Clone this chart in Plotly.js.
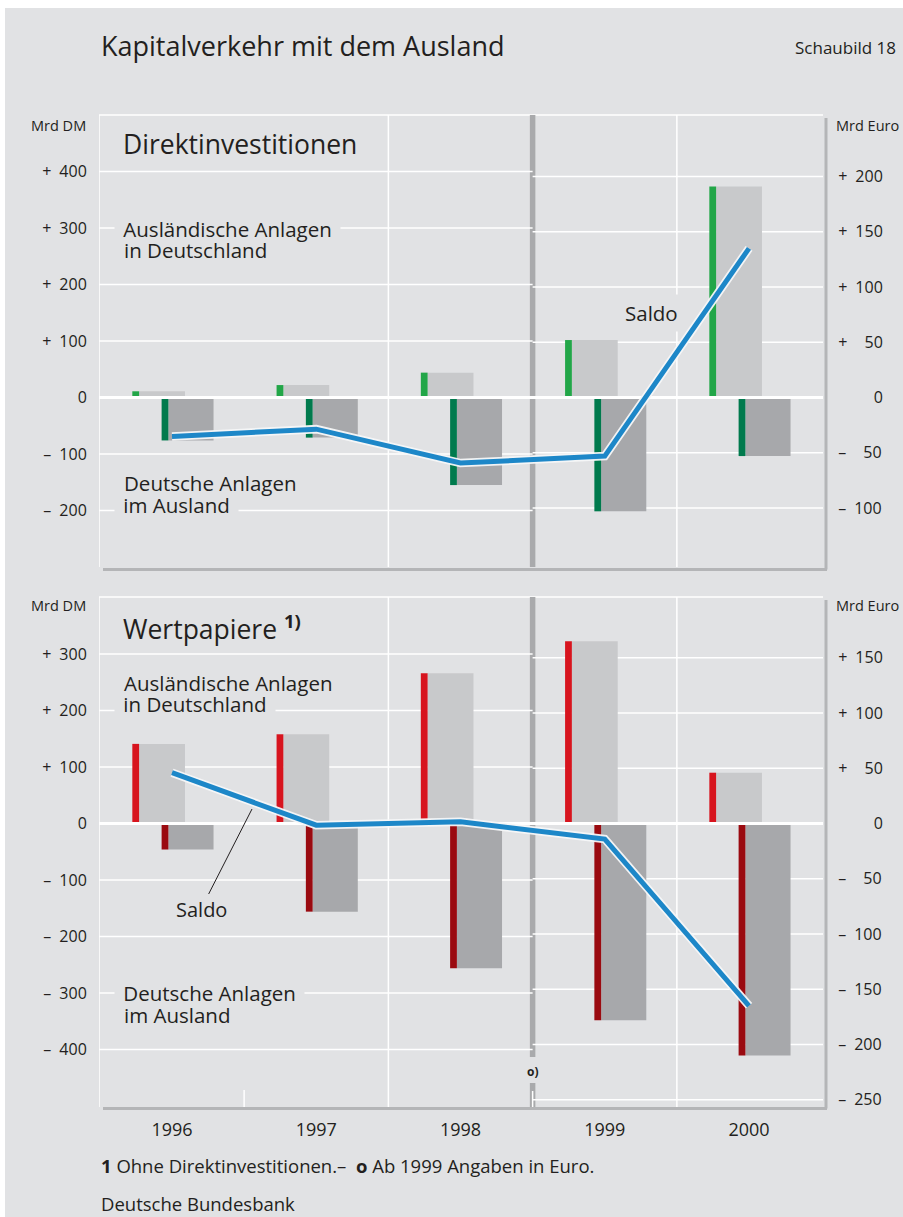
<!DOCTYPE html>
<html>
<head>
<meta charset="utf-8">
<script src="https://cdn.plot.ly/plotly-3.0.1.min.js"></script>
<style>
  html, body { margin: 0; padding: 0; background: #ffffff; }
  #sheet { position: absolute; left: 5px; top: 8px; right: 0; bottom: 0; background: #e1e2e4; }
  #chart { position: absolute; left: 0; top: 0; width: 903px; height: 1217px; }
</style>
</head>
<body>
<div id="sheet"></div>
<div id="chart"></div>
<script>
// Kapitalverkehr mit dem Ausland, Mrd DM bis 1998, ab 1999 Mrd Euro
const years = [1996, 1997, 1998, 1999, 2000];
const yearLabels = ['1996', '1997', '1998', '1999', '2000'];
const euroFrom = 1999;
const DM_PER_EURO = 1.95583;

// Direktinvestitionen
const diForeignInGermany = [11, 22, 44, 52, 191];
const diGermanAbroad = [-76, -71, -155, -103, -53];
const diBalance = [-69, -56, -116, -53, 135];

// Wertpapiere
const wpForeignInGermany = [141, 158, 266, 165, 46];
const wpGermanAbroad = [-46, -156, -256, -178, -210];
const wpBalance = [90, -3, 3, -14, -165];

// axis ticks
const diTicksDM = [-200, -100, 0, 100, 200, 300, 400];
const diTicksEuro = [-100, -50, 0, 50, 100, 150, 200];
const wpTicksDM = [-400, -300, -200, -100, 0, 100, 200, 300];
const wpTicksEuro = [-250, -200, -150, -100, -50, 0, 50, 100, 150];

// ---------- styling ----------
const BG = '#e1e2e4';
const INK = '#231f20';
const FONT = "'Open Sans', 'Noto Sans', sans-serif";
const FILL_IN = '#c8c9cb';
const FILL_OUT = '#a7a8ab';
const GREEN_IN = '#22a648', GREEN_OUT = '#007a4d';
const RED_IN = '#d7141e', RED_OUT = '#9a0a10';
const BLUE = '#1d87c8';
const FRAME = '#b4b5b7';
const DIVIDER = '#a9aaac';

// plot area in page pixels
const L = 99, R = 823, T = 115, B = 1107;
const W = R - L, H = B - T;
const px = x => (x - L) / W;
const py = y => (B - y) / H;

const xRange = [1995.494, 2000.513];
const switchX = 1998.5;
const topDom = [py(567), 1];
const botDom = [0, py(597)];
const diRangeDM = [-300, 500];
const wpRangeDM = [-501.8, 401];
const toEuroRange = r => r.map(v => v / DM_PER_EURO);

// bar geometry within a year slot (offset, width)
const SLOT = {
  inStrip: [-0.275, 0.047], inFill: [-0.228, 0.318],
  outStrip: [-0.072, 0.047], outFill: [-0.025, 0.313]
};

const isEuro = y => y >= euroFrom;
const idxDM = years.map((y, i) => i).filter(i => !isEuro(years[i]));
const idxEU = years.map((y, i) => i).filter(i => isEuro(years[i]));

function bars(values, xa, yaDM, yaEU, color, slot) {
  const mk = (idx, ya) => ({
    type: 'bar', x: idx.map(i => years[i]), y: idx.map(i => values[i]),
    xaxis: xa, yaxis: ya, offset: slot[0], width: slot[1],
    marker: { color: color, line: { width: 0 } }, hoverinfo: 'skip', showlegend: false
  });
  return [mk(idxDM, yaDM), mk(idxEU, yaEU)];
}

function balanceInEuro(values) {
  return values.map((v, i) => isEuro(years[i]) ? v : v / DM_PER_EURO);
}

function panelTraces(inflow, outflow, balance, xa, yaDM, yaEU, cIn, cOut) {
  const euroBars = [];
  const dmBars = [];
  [[inflow, FILL_IN, SLOT.inFill], [inflow, cIn, SLOT.inStrip],
   [outflow, FILL_OUT, SLOT.outFill], [outflow, cOut, SLOT.outStrip]].forEach(([v, c, s]) => {
    const [a, b] = bars(v, xa, yaDM, yaEU, c, s);
    dmBars.push(a); euroBars.push(b);
  });
  const bal = balanceInEuro(balance);
  const zero = { type: 'scatter', mode: 'lines', x: xRange, y: [0, 0], xaxis: xa, yaxis: yaEU,
    line: { color: '#ffffff', width: 3 }, hoverinfo: 'skip', showlegend: false };
  const halo = { type: 'scatter', mode: 'lines', x: years, y: bal, xaxis: xa, yaxis: yaEU,
    line: { color: 'rgba(246,247,248,0.95)', width: 8.5 }, hoverinfo: 'skip', showlegend: false };
  const line = { type: 'scatter', mode: 'lines', x: years, y: bal, xaxis: xa, yaxis: yaEU,
    line: { color: BLUE, width: 5 }, hoverinfo: 'skip', showlegend: false };
  return dmBars.concat(euroBars, [zero, halo, line]);
}

const data = [].concat(
  panelTraces(diForeignInGermany, diGermanAbroad, diBalance, 'x', 'y', 'y2', GREEN_IN, GREEN_OUT),
  panelTraces(wpForeignInGermany, wpGermanAbroad, wpBalance, 'x2', 'y3', 'y4', RED_IN, RED_OUT)
);

// tick texts
const fmtLeft = v => v === 0 ? '0' : (v > 0 ? '+\u2002' : '–\u2002') + Math.abs(v);
const fmtRight = v => {
  if (v === 0) return '\u2007\u2002\u2007\u20070';
  const s = String(Math.abs(v));
  const pad = '\u2007'.repeat(3 - s.length);
  return (v > 0 ? '+\u2002' : '–\u2002') + pad + s;
};

const tickFont = { family: FONT, size: 16, color: INK };
const yLeft = (dom, range, ticks, anchor) => ({
  domain: dom, range: range, anchor: anchor, tickvals: ticks, ticktext: ticks.map(fmtLeft),
  showgrid: false, zeroline: false, showline: false, ticks: 'outside', ticklen: 8,
  tickcolor: 'rgba(0,0,0,0)', tickfont: tickFont, fixedrange: true
});
const yRight = (over, range, ticks, anchor) => ({
  overlaying: over, side: 'right', anchor: anchor, range: range, tickvals: ticks,
  ticktext: ticks.map(fmtRight), showgrid: false, zeroline: false, showline: false,
  ticks: 'outside', ticklen: 11, tickcolor: 'rgba(0,0,0,0)', tickfont: tickFont, fixedrange: true
});

// ---------- grid and frame ----------
const shapes = [];
const white = w => ({ color: '#ffffff', width: w });
function hLine(xa, ya, x0, x1, y) {
  shapes.push({ type: 'line', layer: 'below', xref: xa, yref: ya, x0: x0, x1: x1, y0: y, y1: y, line: white(1.5) });
}
function panelGrid(xa, yaDM, yaEU, ticksDM, ticksEU, dom) {
  ticksDM.filter(v => v !== 0).forEach(v => hLine(xa, yaDM, xRange[0], switchX, v));
  ticksEU.filter(v => v !== 0).forEach(v => hLine(xa, yaEU, switchX, xRange[1], v));
  // top edge
  shapes.push({ type: 'line', layer: 'below', xref: xa, yref: 'paper', x0: xRange[0], x1: xRange[1], y0: dom[1], y1: dom[1], line: white(1.5) });
  // left edge
  shapes.push({ type: 'line', layer: 'below', xref: xa, yref: 'paper', x0: xRange[0], x1: xRange[0], y0: dom[0], y1: dom[1], line: white(1.5) });
  // year separators
  [1997.5, 1999.5].forEach(x => shapes.push({ type: 'line', layer: 'below', xref: xa, yref: 'paper', x0: x, x1: x, y0: dom[0], y1: dom[1], line: white(1.5) }));
}
panelGrid('x', 'y', 'y2', [-200, -100, 100, 200, 300, 400], [-100, -50, 50, 100, 150, 200], topDom);
panelGrid('x2', 'y3', 'y4', [-400, -300, -200, -100, 100, 200, 300], [-250, -200, -150, -100, -50, 50, 100, 150], botDom);

// short marker at the bottom of the lower panel
shapes.push({ type: 'line', layer: 'below', xref: 'x2', yref: 'paper', x0: 1996.5, x1: 1996.5, y0: py(1107), y1: py(1090), line: white(1.5) });

// DM / Euro divider
const divLine = { color: DIVIDER, width: 5.5 };
shapes.push({ type: 'line', layer: 'below', xref: 'x', yref: 'paper', x0: switchX, x1: switchX, y0: topDom[0], y1: topDom[1], line: divLine });
shapes.push({ type: 'line', layer: 'below', xref: 'x2', yref: 'paper', x0: switchX, x1: switchX, y0: py(1057), y1: botDom[1], line: divLine });
shapes.push({ type: 'line', layer: 'below', xref: 'x2', yref: 'paper', x0: switchX, x1: switchX, y0: botDom[0], y1: py(1083), line: divLine });
shapes.push({ type: 'line', layer: 'below', xref: 'x2', yref: 'paper', x0: switchX, x1: switchX, y0: botDom[0], y1: py(1091), line: white(1.5) });

// gray frame lines bottom and right
function frame(yTop, yBottom) {
  shapes.push({ type: 'line', xref: 'paper', yref: 'paper', x0: px(103), x1: px(827), y0: py(yBottom), y1: py(yBottom), line: { color: FRAME, width: 3 } });
  shapes.push({ type: 'line', xref: 'paper', yref: 'paper', x0: px(826), x1: px(826), y0: py(yBottom), y1: py(yTop), line: { color: FRAME, width: 3 } });
}
frame(118, 569.5);
frame(600, 1108.5);

// ---------- texts ----------
const annBoxed = [];
const ann = [];
function txt(text, x, y, size, anchor, extra, list) {
  (list || ann).push(Object.assign({
    text: text, xref: 'paper', yref: 'paper', x: px(x), y: py(y), xanchor: anchor || 'left',
    yanchor: 'middle', showarrow: false, font: { family: FONT, size: size, color: INK }
  }, extra || {}));
}
// labels that sit on a grid line get a background box (padded with no-break spaces)
const NB = '\u00a0';
const LBL = 20.5;
const boxedLabel = (text, y) => txt(NB + text + NB, 122 - 3 - 0.26 * LBL, y, LBL, 'left', { bgcolor: BG, borderpad: 3 }, annBoxed);
const plainLabel = (text, y) => txt(text, 122, y, LBL, 'left');

txt('Kapitalverkehr mit dem Ausland', 99, 45, 27);
txt('Schaubild 18', 898, 48, 17, 'right');

txt('Mrd DM', 88, 125, 14.5, 'right');
txt('Mrd Euro', 834, 125, 14.5, 'left');
txt('Direktinvestitionen', 121, 144, 26.5);
boxedLabel('Ausländische Anlagen', 229);
plainLabel('in Deutschland', 250);
plainLabel('Deutsche Anlagen', 483);
boxedLabel('im Ausland', 505);
txt('Saldo', 651, 313, 20.5, 'center', { bgcolor: BG, borderpad: 4 });

txt('Mrd DM', 88, 605, 14.5, 'right');
txt('Mrd Euro', 834, 605, 14.5, 'left');
txt('Wertpapiere <b><sup>1)</sup></b>', 121, 627, 26.5);
plainLabel('Ausländische Anlagen', 683);
boxedLabel('in Deutschland', 704);
boxedLabel('Deutsche Anlagen', 993);
plainLabel('im Ausland', 1015);
ann.push({
  text: 'Saldo', xref: 'paper', yref: 'paper', x: px(252), y: py(809), ax: -51, ay: 100,
  showarrow: true, arrowhead: 0, arrowwidth: 1, arrowcolor: INK,
  font: { family: FONT, size: 20, color: INK }
});
txt('<b>o)</b>', 533, 1071, 12, 'center');

txt('<b>1</b> Ohne Direktinvestitionen.–  <b>o</b> Ab 1999 Angaben in Euro.', 99, 1165, 18.5);
txt('Deutsche Bundesbank', 99, 1203, 18.5);

const layout = {
  width: 903, height: 1217,
  margin: { l: L, r: 903 - R, t: T, b: 1217 - B, pad: 0 },
  paper_bgcolor: 'rgba(0,0,0,0)', plot_bgcolor: 'rgba(0,0,0,0)',
  barmode: 'overlay', showlegend: false, hovermode: false,
  font: { family: FONT, color: INK },
  xaxis: { domain: [0, 1], range: xRange, anchor: 'y', showticklabels: false, showgrid: false,
    zeroline: false, showline: false, ticks: '', fixedrange: true },
  xaxis2: { domain: [0, 1], range: xRange, anchor: 'y3', tickvals: years, ticktext: yearLabels,
    showgrid: false, zeroline: false, showline: false, ticks: 'outside', ticklen: 6,
    tickcolor: 'rgba(0,0,0,0)', tickfont: { family: FONT, size: 18, color: INK }, fixedrange: true },
  yaxis: yLeft(topDom, diRangeDM, diTicksDM, 'x'),
  yaxis2: yRight('y', toEuroRange(diRangeDM), diTicksEuro, 'x'),
  yaxis3: yLeft(botDom, wpRangeDM, wpTicksDM, 'x2'),
  yaxis4: yRight('y3', toEuroRange(wpRangeDM), wpTicksEuro, 'x2'),
  shapes: shapes,
  annotations: annBoxed.concat(ann)
};

Plotly.newPlot('chart', data, layout, { staticPlot: true, displayModeBar: false });
</script>
</body>
</html>
